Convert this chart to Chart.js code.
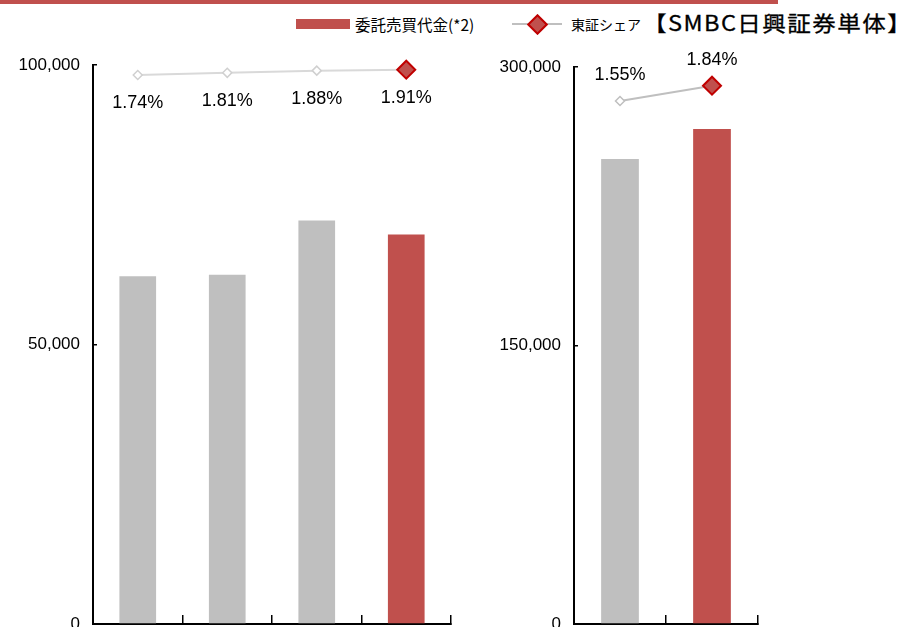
<!DOCTYPE html>
<html>
<head>
<meta charset="utf-8">
<script src="https://cdn.jsdelivr.net/npm/chart.js@4.4.1/dist/chart.umd.min.js"></script>
<style>
  body { margin: 0; width: 905px; height: 627px; overflow: hidden; background: #fff; position: relative; }
  #topbar { position: absolute; left: 0; top: 0; width: 778px; height: 4px; background: #C0504D; }
  #c1 { position: absolute; left: 0; top: 40px; }
  #c2 { position: absolute; left: 480px; top: 40px; }
  .lg { position: absolute; font-family: "Noto Sans CJK JP", sans-serif; color: #000; white-space: nowrap; }
  #lgBar { left: 296px; top: 19px; width: 54px; height: 10px; background: #C0504D; }
  #lgText1 { left: 355px; top: 13px; line-height: 22px; font-size: 15.5px; }
  #lgLine { left: 512px; top: 23px; width: 50px; height: 2px; background: #BFBFBF; }
  #lgDiamond { left: 530px; top: 17px; width: 11px; height: 11px; background: #C0504D; border: 2px solid #C00000; transform: rotate(45deg); }
  #lgText2 { left: 571px; top: 14px; line-height: 20px; font-size: 14px; }
  #title { left: 643px; top: 7px; line-height: 30px; font-size: 21px; letter-spacing: 1.3px; -webkit-text-stroke: 0.3px #000; transform: scaleX(1.12); transform-origin: left center; }
</style>
</head>
<body>
<div id="topbar"></div>
<div class="lg" id="lgBar"></div>
<div class="lg" id="lgText1">委託売買代金(*2)</div>
<div class="lg" id="lgLine"></div>
<div class="lg" id="lgDiamond"></div>
<div class="lg" id="lgText2">東証シェア</div>
<div class="lg" id="title">【SMBC日興証券単体】</div>
<canvas id="c1" width="470" height="595"></canvas>
<canvas id="c2" width="425" height="595"></canvas>
<script>
// left panel
const leftPeriods = ['P1', 'P2', 'P3', 'P4'];
const leftTurnover = [62200, 62500, 72200, 69700];
const leftShare = [1.74, 1.81, 1.88, 1.91];
const leftTicks = [0, 50000, 100000];

// right panel
const rightPeriods = ['Y1', 'Y2'];
const rightTurnover = [250400, 266600];
const rightShare = [1.55, 1.84];
const rightTicks = [0, 150000, 300000];

const RED = '#C0504D';
const GRAY = '#BFBFBF';

Chart.defaults.animation = false;
Chart.defaults.font.family = '"Liberation Sans", Arial, sans-serif';

const shareLabels = {
    id: 'shareLabels',
    afterDatasetsDraw(chart, args, opts) {
        const meta = chart.getDatasetMeta(1);
        const ctx = chart.ctx;
        ctx.save();
        ctx.font = '18px "Liberation Sans", Arial, sans-serif';
        ctx.fillStyle = '#000';
        ctx.textAlign = 'center';
        ctx.textBaseline = 'middle';
        meta.data.forEach((pt, i) => {
            const v = chart.data.datasets[1].data[i];
            ctx.fillText(v.toFixed(2) + '%', pt.x, pt.y + opts.offset);
        });
        ctx.restore();
    }
};

function makeChart(id, cfg) {
    const last = cfg.bars.length - 1;
    const isLast = (i) => i === last;
    return new Chart(document.getElementById(id), {
        type: 'bar',
        data: {
            labels: cfg.labels,
            datasets: [{
                label: '委託売買代金(*2)',
                data: cfg.bars,
                backgroundColor: cfg.bars.map((v, i) => isLast(i) ? RED : GRAY),
                barPercentage: 0.41,
                categoryPercentage: 1,
                order: 2
            }, {
                type: 'line',
                label: '東証シェア',
                data: cfg.share,
                yAxisID: 'y1',
                clip: false,
                borderColor: cfg.lineColor,
                borderWidth: 2,
                pointStyle: 'rectRot',
                pointRadius: cfg.share.map((v, i) => isLast(i) ? 9 : 4.5),
                pointBackgroundColor: cfg.share.map((v, i) => isLast(i) ? RED : '#fff'),
                pointBorderColor: cfg.share.map((v, i) => isLast(i) ? '#C00000' : cfg.markerColor),
                pointBorderWidth: cfg.share.map((v, i) => isLast(i) ? 2 : 1.5),
                order: 1
            }]
        },
        options: {
            responsive: false,
            layout: { padding: { top: cfg.padTop, right: cfg.padRight, left: 0, bottom: 0 } },
            plugins: {
                legend: { display: false },
                tooltip: { enabled: false },
                shareLabels: { offset: cfg.labelOffset }
            },
            scales: {
                x: {
                    offset: true,
                    afterFit: s => { s.height = cfg.xHeight; s.paddingLeft = 0; s.paddingRight = 0; },
                    grid: { offset: true, drawOnChartArea: false, tickLength: -9, color: '#000', lineWidth: 1.5 },
                    border: { display: true, color: '#000', width: 2 },
                    ticks: { display: false }
                },
                y: {
                    min: cfg.ticks[0],
                    max: cfg.ticks[cfg.ticks.length - 1],
                    afterFit: s => { s.width = cfg.yWidth; s.paddingTop = 0; s.paddingBottom = 0; },
                    afterBuildTicks: s => { s.ticks = cfg.ticks.map(v => ({ value: v })); },
                    border: { display: true, color: '#000', width: 2 },
                    grid: { drawOnChartArea: false, tickLength: -4, color: '#000', lineWidth: 1.5 },
                    ticks: {
                        padding: 17,
                        color: '#000',
                        font: { size: 17 },
                        callback: v => v.toLocaleString('en-US')
                    }
                },
                y1: {
                    display: false,
                    min: cfg.shareMin,
                    max: cfg.shareMax
                }
            }
        },
        plugins: [shareLabels]
    });
}

makeChart('c1', {
    labels: leftPeriods, bars: leftTurnover, share: leftShare, ticks: leftTicks,
    lineColor: '#D9D9D9', markerColor: '#D0D0D0',
    padTop: 25, padRight: 19, xHeight: 4, yWidth: 93,
    shareMin: -15.82, shareMax: 2.06, labelOffset: 28
});

makeChart('c2', {
    labels: rightPeriods, bars: rightTurnover, share: rightShare, ticks: rightTicks,
    lineColor: GRAY, markerColor: GRAY,
    padTop: 27, padRight: 147, xHeight: 3, yWidth: 94,
    shareMin: -8.36, shareMax: 2.194, labelOffset: -26
});
</script>
</body>
</html>
